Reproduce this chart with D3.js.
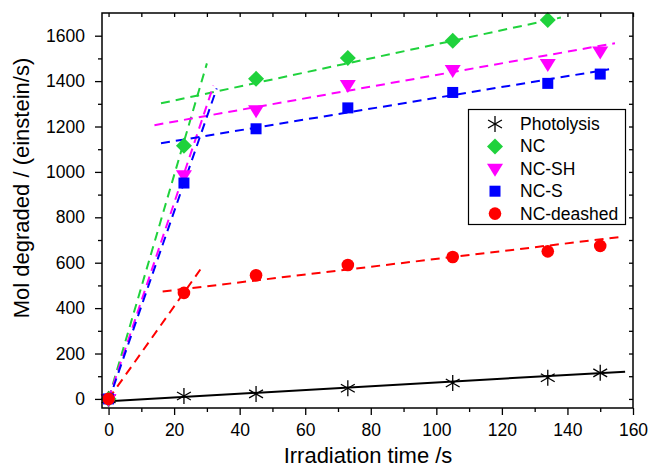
<!DOCTYPE html>
<html>
<head>
<meta charset="utf-8">
<script src="https://cdn.jsdelivr.net/npm/d3@7/dist/d3.min.js"></script>
<style>
  body { margin: 0; background: #fff; }
  text { font-family: "Liberation Sans", Arial, sans-serif; }
</style>
</head>
<body>
<div id="chart"></div>
<script>
// measured values
var times = [0, 23, 45, 73, 105, 134, 150];
var photolysis = [0, 13, 22, 47, 70, 93, 115];
var nc = [0, 1115, 1410, 1502, 1578, 1669];
var ncSH = [0, 985, 1272, 1383, 1449, 1475, 1530];
var ncS = [0, 951, 1190, 1282, 1350, 1390, 1431];
var ncDeashed = [0, 467, 545, 590, 625, 650, 674];

// fitted lines, [x0, x1] and [y0, y1]
var fitPhotoX = [0, 157.6], fitPhotoY = [-10, 120];
var fitNcX1 = [0, 30], fitNcY1 = [0, 1478];
var fitNcX2 = [16, 138], fitNcY2 = [1302, 1680];
var fitShX1 = [0, 32], fitShY1 = [0, 1380];
var fitShX2 = [14, 154.5], fitShY2 = [1206, 1567];
var fitSX1 = [0, 33], fitSY1 = [-10, 1368];
var fitSX2 = [16, 152.7], fitSY2 = [1126, 1452];
var fitDeX1 = [0, 28], fitDeY1 = [0, 570];
var fitDeX2 = [16.5, 156], fitDeY2 = [473, 713];

var legendNames = ["Photolysis", "NC", "NC-SH", "NC-S", "NC-deashed"];
var xTicks = [0, 20, 40, 60, 80, 100, 120, 140, 160];
var yTicks = [0, 200, 400, 600, 800, 1000, 1200, 1400, 1600];

var green = "#1fd23c", magenta = "#ff00ff", blue = "#0000ff", red = "#ff0000";

var width = 649, height = 470;
var mLeft = 102, mRight = 633, mTop = 13, mBottom = 408;

var svg = d3.select("#chart").append("svg")
  .attr("width", width)
  .attr("height", height);

var x = d3.scaleLinear().domain([-2, 160]).range([mLeft, mRight]);
var y = d3.scaleLinear().domain([-40, 1700]).range([mBottom, mTop]);

//clip so lines stay in the frame
svg.append("clipPath").attr("id", "clip")
  .append("rect")
  .attr("x", mLeft).attr("y", mTop)
  .attr("width", mRight - mLeft).attr("height", mBottom - mTop);

var plot = svg.append("g");

function fitLine(xs, ys, colour, dashed) {
  plot.append("line")
    .attr("clip-path", "url(#clip)")
    .attr("x1", x(xs[0])).attr("y1", y(ys[0]))
    .attr("x2", x(xs[1])).attr("y2", y(ys[1]))
    .attr("stroke", colour)
    .attr("stroke-width", 2)
    .attr("stroke-dasharray", dashed ? "9,6" : null);
}

fitLine(fitPhotoX, fitPhotoY, "#000", false);
fitLine(fitNcX1, fitNcY1, green, true);
fitLine(fitNcX2, fitNcY2, green, true);
fitLine(fitShX1, fitShY1, magenta, true);
fitLine(fitShX2, fitShY2, magenta, true);
fitLine(fitSX1, fitSY1, blue, true);
fitLine(fitSX2, fitSY2, blue, true);
fitLine(fitDeX1, fitDeY1, red, true);
fitLine(fitDeX2, fitDeY2, red, true);

// marker shapes
function drawMarker(g, kind, cx, cy) {
  if (kind == "star") {
    var r = 8;
    [90, 30, 150].forEach(function (a) {
      var rad = a * Math.PI / 180;
      g.append("line")
        .attr("x1", cx - r * Math.cos(rad)).attr("y1", cy - r * Math.sin(rad))
        .attr("x2", cx + r * Math.cos(rad)).attr("y2", cy + r * Math.sin(rad))
        .attr("stroke", "#000").attr("stroke-width", 1.3);
    });
  } else if (kind == "diamond") {
    g.append("path")
      .attr("d", "M" + cx + "," + (cy - 8) + "L" + (cx + 8) + "," + cy +
        "L" + cx + "," + (cy + 8) + "L" + (cx - 8) + "," + cy + "Z")
      .attr("fill", green);
  } else if (kind == "tri") {
    g.append("path")
      .attr("d", "M" + (cx - 8) + "," + (cy - 5) + "L" + (cx + 8) + "," + (cy - 5) +
        "L" + cx + "," + (cy + 8) + "Z")
      .attr("fill", magenta);
  } else if (kind == "square") {
    g.append("rect")
      .attr("x", cx - 5.5).attr("y", cy - 5.5)
      .attr("width", 11).attr("height", 11)
      .attr("fill", blue);
  } else if (kind == "circle") {
    g.append("circle")
      .attr("cx", cx).attr("cy", cy).attr("r", 6.3)
      .attr("fill", red);
  }
}

var series = [
  { values: photolysis, kind: "star" },
  { values: nc, kind: "diamond" },
  { values: ncSH, kind: "tri" },
  { values: ncS, kind: "square" },
  { values: ncDeashed, kind: "circle" }
];

var markers = plot.append("g");
series.forEach(function (s) {
  s.values.forEach(function (v, i) {
    drawMarker(markers, s.kind, x(times[i]), y(v));
  });
});

// axes
var minorX = d3.range(10, 160, 20);
var minorY = d3.range(100, 1700, 200);

svg.append("g")
  .attr("transform", "translate(0," + mBottom + ")")
  .call(d3.axisBottom(x).tickValues(xTicks).tickSize(7).tickPadding(9)
    .tickFormat(d3.format("d")));
svg.append("g")
  .attr("transform", "translate(0," + mBottom + ")")
  .call(d3.axisBottom(x).tickValues(minorX).tickSize(4).tickFormat(""));

svg.append("g")
  .attr("transform", "translate(" + mLeft + ",0)")
  .call(d3.axisLeft(y).tickValues(yTicks).tickSize(7).tickPadding(10)
    .tickFormat(d3.format("d")));
svg.append("g")
  .attr("transform", "translate(" + mLeft + ",0)")
  .call(d3.axisLeft(y).tickValues(minorY).tickSize(4).tickFormat(""));

// top and right, ticks inward
svg.append("g")
  .attr("transform", "translate(0," + mTop + ")")
  .call(d3.axisTop(x).tickValues(xTicks.concat(minorX)).tickSize(-4).tickFormat(""));
svg.append("g")
  .attr("transform", "translate(" + mRight + ",0)")
  .call(d3.axisRight(y).tickValues(yTicks.concat(minorY)).tickSize(-4).tickFormat(""));

svg.selectAll(".domain").remove();
svg.selectAll(".tick line").attr("stroke", "#000").attr("stroke-width", 1.3);
svg.selectAll(".tick text").attr("font-size", "17.5px").attr("fill", "#000")
  .attr("font-family", "Liberation Sans, Arial, sans-serif");

svg.append("rect")
  .attr("x", mLeft).attr("y", mTop)
  .attr("width", mRight - mLeft).attr("height", mBottom - mTop)
  .attr("fill", "none").attr("stroke", "#000").attr("stroke-width", 1.5);

svg.append("text")
  .attr("x", 368).attr("y", 463)
  .attr("text-anchor", "middle")
  .attr("font-size", "22px")
  .text("Irradiation time /s");

svg.append("text")
  .attr("transform", "translate(29,188) rotate(-90)")
  .attr("text-anchor", "middle")
  .attr("font-size", "22px")
  .text("Mol degraded / (einstein/s)");

// legend
var legend = svg.append("g");
legend.append("rect")
  .attr("x", 468.5).attr("y", 109.5)
  .attr("width", 157).attr("height", 115)
  .attr("fill", "#fff").attr("stroke", "#000").attr("stroke-width", 1.2);

legendNames.forEach(function (name, i) {
  var ly = 124 + i * 22.4;
  drawMarker(legend, series[i].kind, 495, ly);
  legend.append("text")
    .attr("x", 520).attr("y", ly + 6)
    .attr("font-size", "17.5px")
    .text(name);
});
</script>
</body>
</html>
